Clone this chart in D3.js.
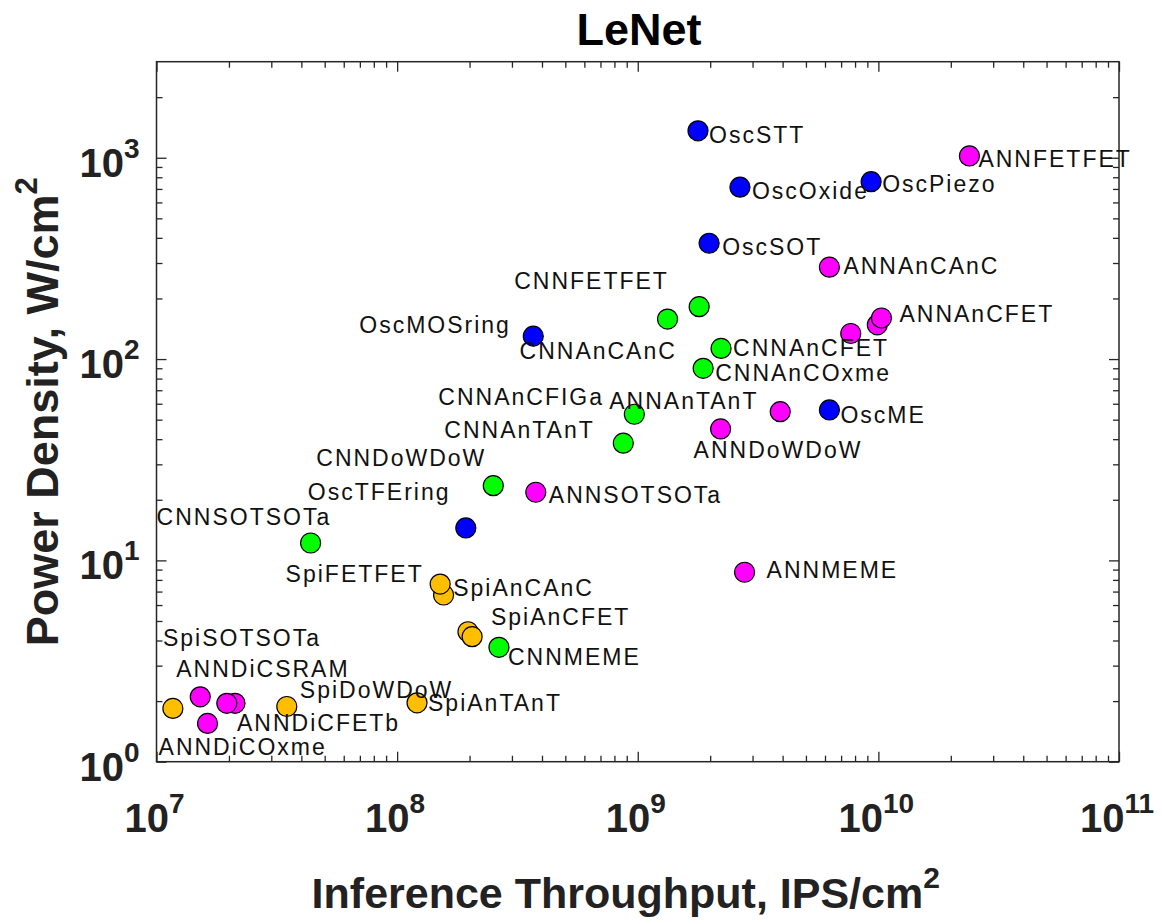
<!DOCTYPE html>
<html>
<head>
<meta charset="utf-8">
<script src="https://cdn.jsdelivr.net/npm/d3@7"></script>
<style>
  html, body { margin: 0; padding: 0; background: #fff; }
  svg { display: block; font-family: "Liberation Sans", Arial, sans-serif; }
</style>
</head>
<body>
<svg id="chart" width="1162" height="924"></svg>
<script>
// ---- Data: LeNet benchmark, throughput (IPS/cm^2) vs power density (W/cm^2) ----
const oscLabels = ["OscSTT", "OscOxide", "OscPiezo", "OscSOT", "OscMOSring", "OscME", "OscTFEring"];
const oscX = [1.78e9, 2.66e9, 9.33e9, 1.98e9, 3.68e8, 6.26e9, 1.93e8];
const oscY = [1360, 714, 761, 376, 130, 55.9, 14.5];

const cnnLabels = ["CNNAnCAnC", "CNNFETFET", "CNNAnCFET", "CNNAnCOxme", "CNNAnCFIGa", "CNNAnTAnT", "CNNDoWDoW", "CNNSOTSOTa", "CNNMEME"];
const cnnX = [1.33e9, 1.80e9, 2.22e9, 1.87e9, 9.68e8, 8.71e8, 2.51e8, 4.37e7, 2.65e8];
const cnnY = [158, 182, 113, 90, 53.2, 38.2, 23.5, 12.2, 3.70];

const spiLabels = ["SpiFETFET", "SpiAnCAnC", "SpiAnCFET", "", "SpiAnTAnT", "SpiDoWDoW", "SpiSOTSOTa"];
const spiX = [1.56e8, 1.51e8, 1.97e8, 2.05e8, 1.21e8, 3.48e7, 1.17e7];
const spiY = [6.73, 7.63, 4.42, 4.18, 1.96, 1.88, 1.84];

const annLabels = ["ANNFETFET", "ANNAnCAnC", "", "ANNAnCFET", "", "ANNAnTAnT", "ANNDoWDoW", "ANNSOTSOTa", "ANNMEME", "ANNDiCSRAM", "ANNDiCFETb", "", "ANNDiCOxme"];
const annX = [2.39e10, 6.26e9, 9.9e9, 1.03e10, 7.68e9, 3.91e9, 2.21e9, 3.77e8, 2.78e9, 1.52e7, 2.12e7, 1.96e7, 1.63e7];
const annY = [1021, 286, 148, 160, 134, 54.8, 45.0, 21.8, 8.73, 2.10, 1.95, 1.95, 1.55];

const xDomain = [1e7, 1e11];
const yDomain = [1, 3000];
const xMajorExp = [7, 8, 9, 10, 11];
const yMajorExp = [0, 1, 2, 3];

// ---- Layout ----
const margin = { left: 156.5, top: 61.7, right: 43, bottom: 162.3 };
const W = 1162, H = 924;
const pw = W - margin.left - margin.right;
const ph = H - margin.top - margin.bottom;

// label placement relative to its marker (start of text, baseline)
const labelOffset = {
  OscSTT: [11, 12], OscOxide: [12, 12], OscPiezo: [11, 10], OscSOT: [13, 12],
  OscMOSring: [-174, -3], OscME: [11, 13], OscTFEring: [-158, -28],
  ANNFETFET: [9, 11], ANNAnCAnC: [14, 7], ANNAnCFET: [18, 4], ANNAnTAnT: [-171, -3],
  ANNDoWDoW: [-27, 29], ANNSOTSOTa: [13, 11], ANNMEME: [22, 6], ANNDiCSRAM: [-24, -20],
  ANNDiCFETb: [2, 28], ANNDiCOxme: [-49, 32],
  CNNFETFET: [-185, -18], CNNAnCAnC: [-148, 40], CNNAnCFET: [12, 8], CNNAnCOxme: [12, 13],
  CNNAnCFIGa: [-196, -9], CNNAnTAnT: [-179, -5], CNNDoWDoW: [-177, -20],
  CNNSOTSOTa: [-154, -18], CNNMEME: [9, 18],
  SpiFETFET: [-158, -13], SpiAnCAnC: [13, 12], SpiAnCFET: [23, -7], SpiAnTAnT: [11, 8],
  SpiDoWDoW: [13, -8], SpiSOTSOTa: [-10, -62]
};

const series = [
  { labels: oscLabels, xs: oscX, ys: oscY, color: "#0000ff" },
  { labels: cnnLabels, xs: cnnX, ys: cnnY, color: "#00ff00" },
  { labels: spiLabels, xs: spiX, ys: spiY, color: "#ffbf00" },
  { labels: annLabels, xs: annX, ys: annY, color: "#ff00ff" }
];

const svg = d3.select("#chart");
const g = svg.append("g").attr("transform", `translate(${margin.left},${margin.top})`);

const x = d3.scaleLog().domain(xDomain).range([0, pw]);
const y = d3.scaleLog().domain(yDomain).range([ph, 0]);

const axisColor = "#262626";
const isMajor = v => Math.abs(Math.log10(v) - Math.round(Math.log10(v))) < 1e-9;
const xMinor = x.ticks().filter(v => !isMajor(v));
const yMinor = y.ticks().filter(v => !isMajor(v) && v < yDomain[1]);
const xMajor = xMajorExp.map(e => Math.pow(10, e));
const yMajor = yMajorExp.map(e => Math.pow(10, e));

function styleAxis(sel) {
  sel.select(".domain").remove();
  sel.selectAll("line").attr("stroke", axisColor).attr("stroke-width", 1.3);
  sel.selectAll("text").remove();
}

// ticks on all four sides, pointing inward
[[xMinor, 6], [xMajor, 10]].forEach(([vals, len]) => {
  g.append("g").attr("transform", `translate(0,${ph})`)
    .call(d3.axisBottom(x).tickValues(vals).tickSize(-len).tickFormat(""))
    .call(styleAxis);
  g.append("g")
    .call(d3.axisTop(x).tickValues(vals).tickSize(-len).tickFormat(""))
    .call(styleAxis);
});
[[yMinor, 6], [yMajor, 10]].forEach(([vals, len]) => {
  g.append("g")
    .call(d3.axisLeft(y).tickValues(vals).tickSize(-len).tickFormat(""))
    .call(styleAxis);
  g.append("g").attr("transform", `translate(${pw},0)`)
    .call(d3.axisRight(y).tickValues(vals).tickSize(-len).tickFormat(""))
    .call(styleAxis);
});

// frame
g.append("rect")
  .attr("x", 0).attr("y", 0).attr("width", pw).attr("height", ph)
  .attr("fill", "none").attr("stroke", axisColor).attr("stroke-width", 1.5);

// tick labels 10^n
function powerLabel(sel, exp) {
  sel.append("tspan").text("10");
  sel.append("tspan").attr("dy", -19).attr("font-size", 28).text(String(exp));
}
xMajorExp.forEach(e => {
  g.append("text")
    .attr("x", x(Math.pow(10, e)) - 2).attr("y", ph + 70)
    .attr("text-anchor", "middle")
    .attr("font-size", 40).attr("font-weight", "bold").attr("fill", "#222")
    .call(powerLabel, e);
});
yMajorExp.forEach(e => {
  g.append("text")
    .attr("x", -17).attr("y", y(Math.pow(10, e)) + 19)
    .attr("text-anchor", "end")
    .attr("font-size", 40).attr("font-weight", "bold").attr("fill", "#222")
    .call(powerLabel, e);
});

// markers
series.forEach(s => {
  g.append("g").selectAll("circle")
    .data(s.xs.map((v, i) => ({ x: v, y: s.ys[i] })))
    .join("circle")
    .attr("cx", d => x(d.x))
    .attr("cy", d => y(d.y))
    .attr("r", 10)
    .attr("fill", s.color)
    .attr("stroke", "#000")
    .attr("stroke-width", 1.2);
});

// point labels
series.forEach(s => {
  const pts = s.xs.map((v, i) => ({ x: v, y: s.ys[i], label: s.labels[i] }))
    .filter(d => d.label && labelOffset[d.label]);
  g.append("g").selectAll("text")
    .data(pts)
    .join("text")
    .attr("x", d => x(d.x) + labelOffset[d.label][0])
    .attr("y", d => y(d.y) + labelOffset[d.label][1])
    .attr("font-size", 23)
    .attr("letter-spacing", 2)
    .attr("fill", "#111")
    .text(d => d.label);
});

// axis titles
const xTitle = svg.append("text")
  .attr("x", margin.left + pw / 2 - 12).attr("y", 908)
  .attr("text-anchor", "middle")
  .attr("font-size", 43).attr("font-weight", "bold").attr("fill", "#222");
xTitle.append("tspan").text("Inference Throughput, IPS/cm");
xTitle.append("tspan").attr("dy", -20).attr("font-size", 30).text("2");

const yTitle = svg.append("text")
  .attr("transform", `translate(58,${margin.top + ph / 2}) rotate(-90)`)
  .attr("text-anchor", "middle")
  .attr("font-size", 45).attr("font-weight", "bold").attr("fill", "#222");
yTitle.append("tspan").text("Power Density, W/cm");
yTitle.append("tspan").attr("dy", -21).attr("font-size", 31).text("2");

// chart title
svg.append("text")
  .attr("x", 639).attr("y", 45)
  .attr("text-anchor", "middle")
  .attr("font-size", 45).attr("font-weight", "bold").attr("fill", "#000")
  .text("LeNet");
</script>
</body>
</html>
